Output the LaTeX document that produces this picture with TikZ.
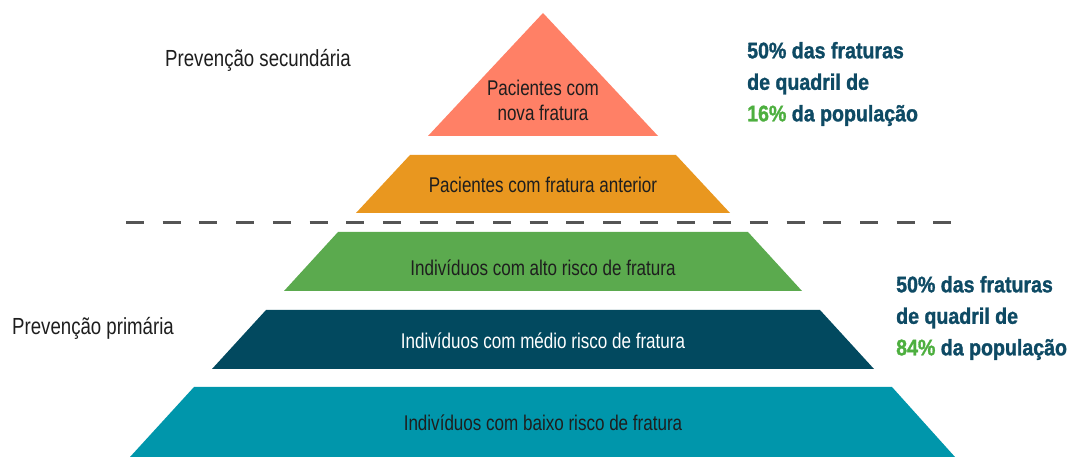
\documentclass[tikz,border=0pt]{standalone}
\usepackage{fontspec}
\setmainfont[FakeStretch=0.8]{Liberation Sans}
\newfontfamily\boldcond[FakeStretch=0.87,BoldFeatures={FakeBold=1.3}]{Liberation Sans}
\definecolor{salmon}{HTML}{FF8066}
\definecolor{orangeb}{HTML}{E9971F}
\definecolor{greenb}{HTML}{5BAA4E}
\definecolor{darkb}{HTML}{02495F}
\definecolor{tealb}{HTML}{0096AB}
\definecolor{navyt}{HTML}{0E4A64}
\definecolor{greent}{HTML}{4DAF3F}
\definecolor{labelt}{HTML}{1E1E1E}
\definecolor{dashc}{HTML}{555555}
\begin{document}
\begin{tikzpicture}[x=1pt,y=1pt,
  layertext/.style={font=\fontsize{21.3}{25}\selectfont, text=labelt, align=center, inner sep=0pt},
  sidelabel/.style={font=\fontsize{23.3}{27}\selectfont, text=labelt, anchor=west, inner sep=0pt},
  stat/.style={font=\boldcond\bfseries\fontsize{22.5}{31.5}\selectfont, text=navyt, align=left, anchor=west, inner sep=0pt}]
\useasboundingbox (0,0) rectangle (1073,457);
\fill[white] (0,0) rectangle (1073,457);
% pyramid layers
\fill[salmon] (428,321) -- (658,321) -- (543,444) -- cycle;
\fill[orangeb] (356,244) -- (730,244) -- (676,302) -- (410,302) -- cycle;
\fill[greenb] (284,166) -- (802,166) -- (748,225) -- (338,225) -- cycle;
\fill[darkb] (212,88) -- (874,88) -- (820,147) -- (266,147) -- cycle;
\fill[tealb] (130,0) -- (955,0) -- (892,70) -- (194,70) -- cycle;
% dashed separator
\coordinate (dl) at (126,234);
\coordinate (dr) at (952,234);
\draw[dashc, line width=3pt, dash pattern=on 18pt off 18.7pt] (dl) -- (dr);
% layer texts
\node[layertext] (t1) at (543,357) {Pacientes com\\nova fratura};
\node[layertext] (t2) at (543,272) {Pacientes com fratura anterior};
\node[layertext] (t3) at (543,189) {Indivíduos com alto risco de fratura};
\node[layertext, text=white] (t4) at (543,116) {Indivíduos com médio risco de fratura};
\node[layertext] (t5) at (543,34) {Indivíduos com baixo risco de fratura};
% side labels
\node[sidelabel] (sec) at (165,397) {Prevenção secundária};
\node[sidelabel] (pri) at (12,129) {Prevenção primária};
% statistics
\node[stat] (s1) at (747,373) {50\% das fraturas\\de quadril de\\\textcolor{greent}{16\%} da população};
\node[stat] (s2) at (896,139) {50\% das fraturas\\de quadril de\\\textcolor{greent}{84\%} da população};
\end{tikzpicture}
\end{document}
